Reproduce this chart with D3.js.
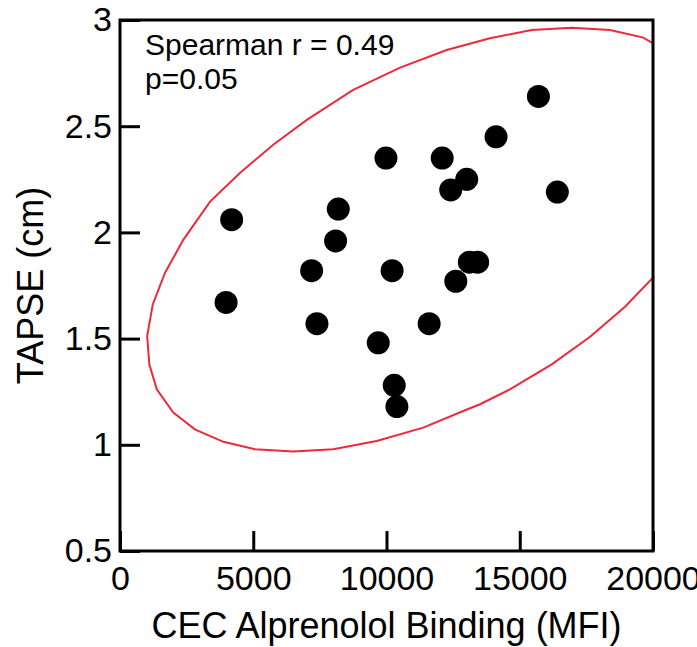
<!DOCTYPE html>
<html>
<head>
<meta charset="utf-8">
<script src="https://cdn.jsdelivr.net/npm/d3@7"></script>
<style>
  body { margin: 0; background: #fff; }
  svg text { font-family: "Liberation Sans", Arial, sans-serif; fill: #000; }
</style>
</head>
<body>
<svg id="chart"></svg>
<script>
// CEC alprenolol binding (MFI) vs TAPSE (cm), one entry per patient
var bindingMFI = [4190, 3980, 8190, 8090, 7190, 7390, 9980, 10210, 9690, 10290, 10390,
                  11600, 12090, 12410, 13010, 12600, 13110, 13420, 15700, 14110, 16410];
var tapseCm    = [2.06, 1.67, 2.11, 1.96, 1.82, 1.57, 2.35, 1.82, 1.48, 1.28, 1.18,
                  1.57, 2.35, 2.20, 2.25, 1.77, 1.86, 1.86, 2.64, 2.45, 2.19];

// confidence ellipse outline (runs off the right edge)
var ellipseX = [19990, 18950, 17640, 16200, 14630, 13510, 12880, 11380, 9630, 8000, 6500,
                5070, 3880, 2810, 2000, 1380, 1100, 1020, 1230, 1690, 2380, 3380, 4500,
                5750, 7010, 8750, 10510, 12260, 13880, 15450, 16950, 18390, 19640, 19990];
var ellipseY = [1.786, 1.650, 1.509, 1.379, 1.261, 1.191, 1.159, 1.081, 1.018, 0.979, 0.968,
                0.979, 1.014, 1.073, 1.152, 1.261, 1.379, 1.512, 1.661, 1.810, 1.966, 2.145, 2.280,
                2.413, 2.530, 2.671, 2.776, 2.859, 2.914, 2.953, 2.964, 2.953, 2.917, 2.891];

var xTicks = [0, 5000, 10000, 15000, 20000];
var yTicks = [0.5, 1, 1.5, 2, 2.5, 3];
var statLines = ["Spearman r = 0.49", "p=0.05"];

var width = 697, height = 647;
var plotL = 120, plotR = 653, plotT = 20, plotB = 551;

var svg = d3.select("#chart")
    .attr("width", width)
    .attr("height", height);

var x = d3.scaleLinear().domain([0, 20000]).range([plotL, plotR]);
var y = d3.scaleLinear().domain([0.5, 3]).range([plotB, plotT]);

svg.append("clipPath").attr("id", "plotclip")
    .append("rect")
    .attr("x", plotL).attr("y", plotT)
    .attr("width", plotR - plotL).attr("height", plotB - plotT);

// ellipse
var ellipse = ellipseX.map(function(d, i) { return [d, ellipseY[i]]; });
svg.append("path")
    .datum(ellipse)
    .attr("clip-path", "url(#plotclip)")
    .attr("fill", "none")
    .attr("stroke", "#ec2a3c")
    .attr("stroke-width", 2)
    .attr("d", d3.line()
        .x(function(d) { return x(d[0]); })
        .y(function(d) { return y(d[1]); })
    );

// points
svg.append("g")
    .selectAll("circle")
    .data(bindingMFI)
    .enter()
    .append("circle")
        .attr("cx", function(d) { return x(d); })
        .attr("cy", function(d, i) { return y(tapseCm[i]); })
        .attr("r", 11.5)
        .style("fill", "#000");

// axes with inward ticks
var xAxis = svg.append("g")
    .attr("transform", `translate(0, ${plotB})`)
    .call(d3.axisBottom(x).tickValues(xTicks).tickSizeInner(-20).tickSizeOuter(0).tickPadding(15)
        .tickFormat(d3.format("d")));
var yAxis = svg.append("g")
    .attr("transform", `translate(${plotL}, 0)`)
    .call(d3.axisLeft(y).tickValues(yTicks).tickSizeInner(-20).tickSizeOuter(0).tickPadding(8)
        .tickFormat(function(d) { return String(d); }));

[xAxis, yAxis].forEach(function(a) {
    a.select(".domain").remove();
    a.selectAll(".tick line").attr("stroke", "#000").attr("stroke-width", 3);
    a.selectAll(".tick text").style("font-size", "34px").attr("fill", "#000");
});

// frame
svg.append("rect")
    .attr("x", plotL).attr("y", plotT)
    .attr("width", plotR - plotL).attr("height", plotB - plotT)
    .attr("fill", "none")
    .attr("stroke", "#000")
    .attr("stroke-width", 3);

// statistics text
svg.append("g").selectAll("text")
    .data(statLines)
    .enter()
    .append("text")
    .attr("x", 145)
    .attr("y", function(d, i) { return 55 + i * 34; })
    .style("font-size", "30px")
    .text(function(d) { return d; });

// axis titles
svg.append("text")
    .attr("x", (plotL + plotR) / 2)
    .attr("y", 638)
    .attr("text-anchor", "middle")
    .style("font-size", "36px")
    .text("CEC Alprenolol Binding (MFI)");

svg.append("text")
    .attr("transform", `translate(43, ${(plotT + plotB) / 2}) rotate(-90)`)
    .attr("text-anchor", "middle")
    .style("font-size", "36px")
    .text("TAPSE (cm)");
</script>
</body>
</html>
